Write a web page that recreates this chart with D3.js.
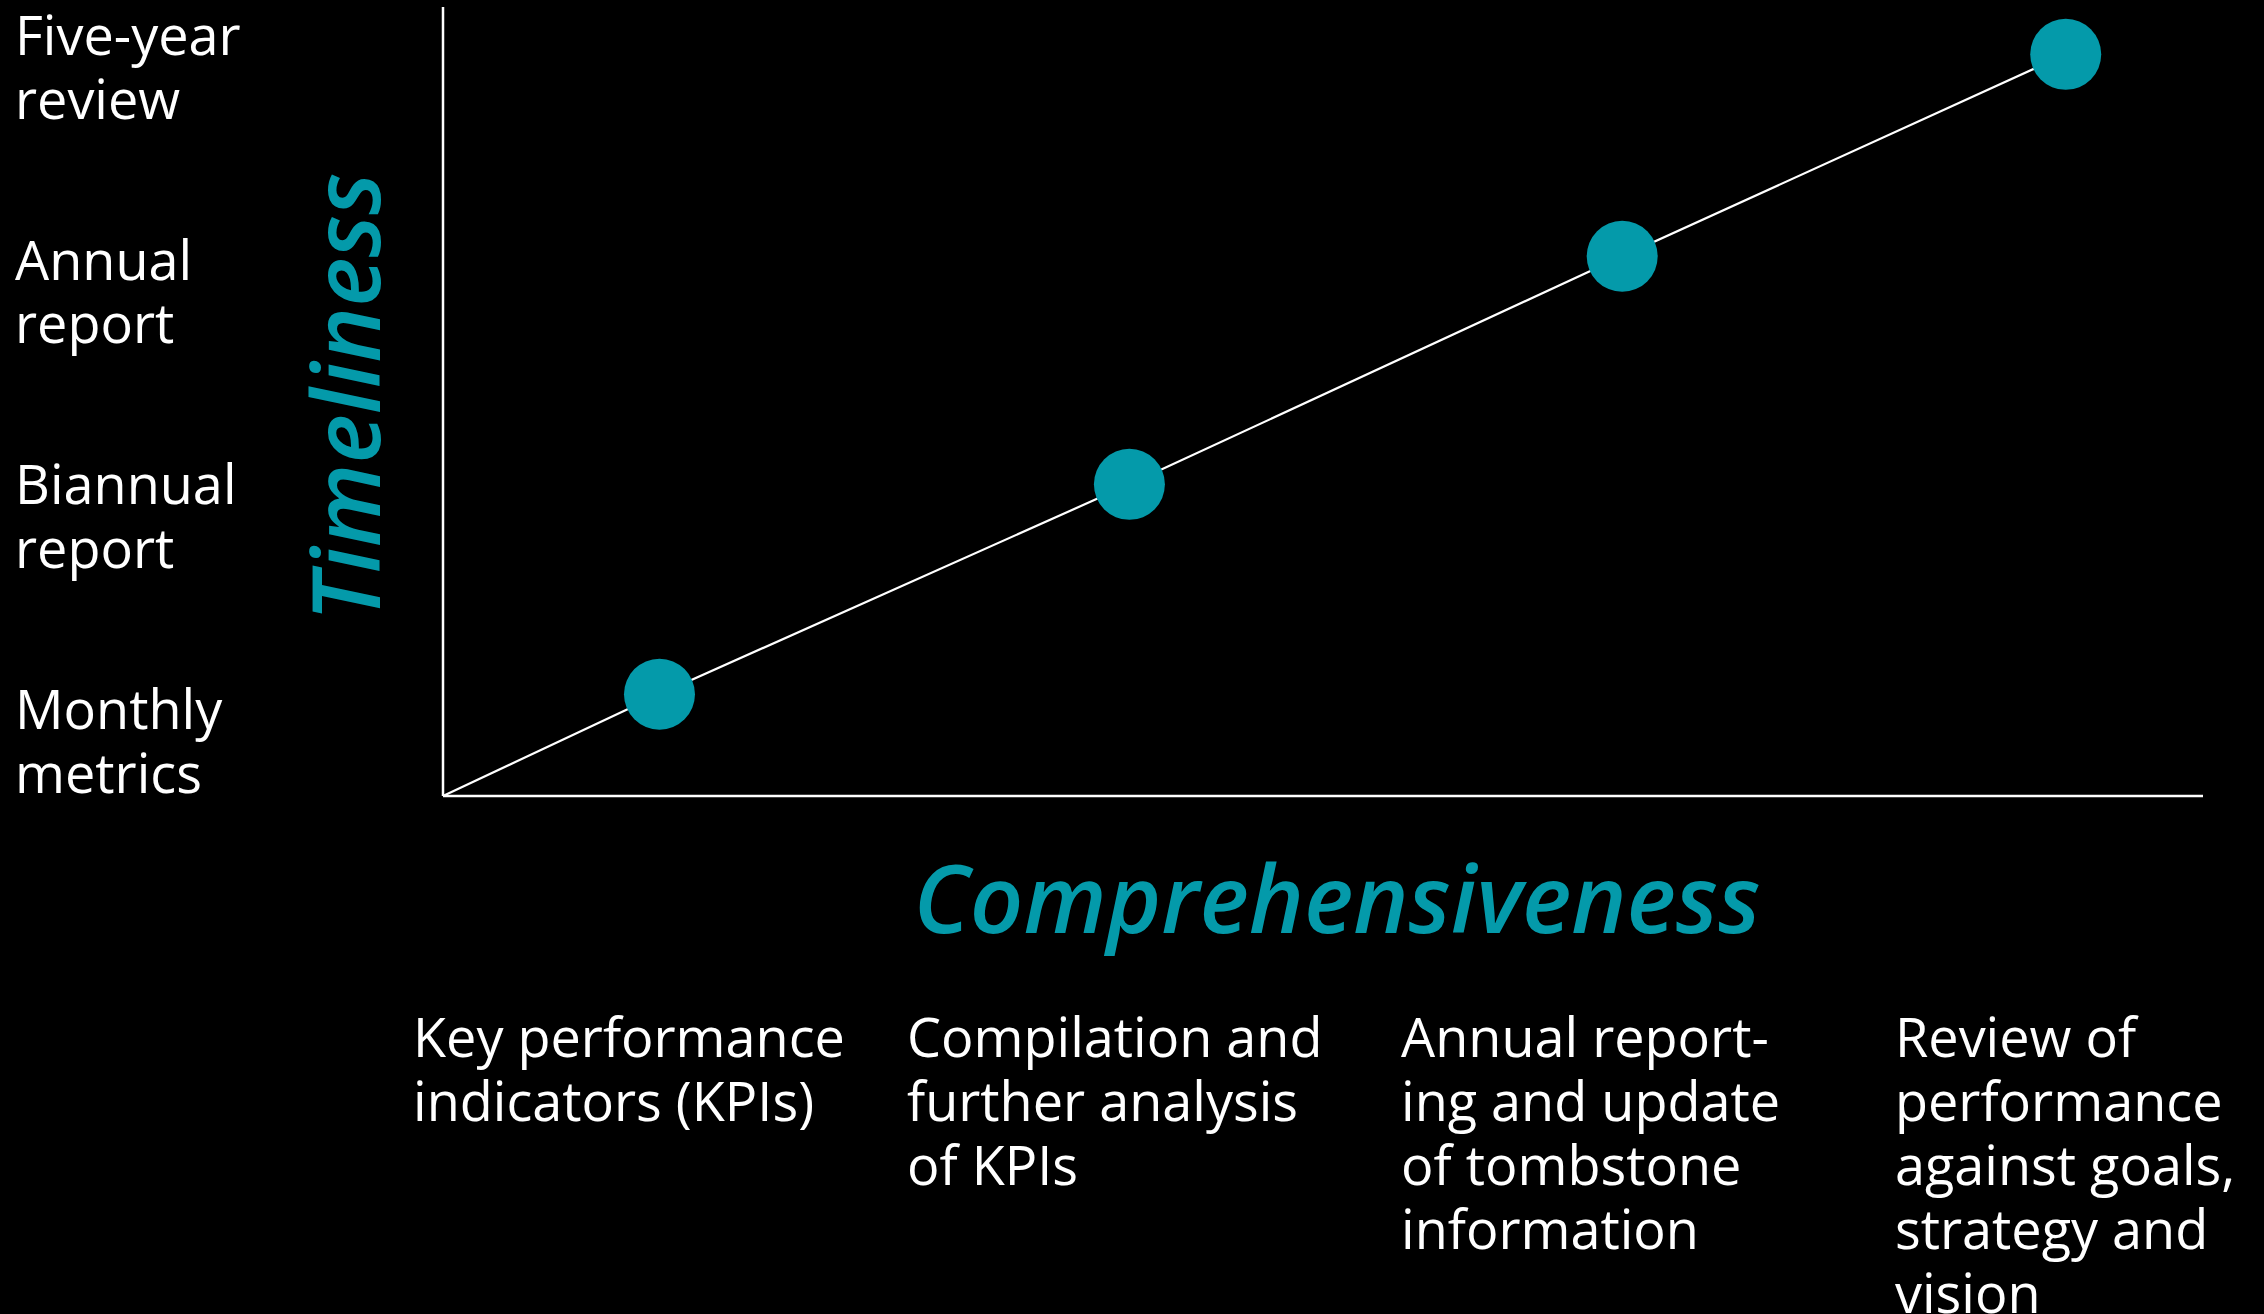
<!DOCTYPE html>
<html><head><meta charset="utf-8">
<script src="https://cdn.jsdelivr.net/npm/d3@7"></script>
<style>
html,body{margin:0;padding:0;background:#000;}
svg{display:block;}
text{font-family:"Open Sans",sans-serif;}
</style></head>
<body>
<svg id="c" width="2264" height="1314"></svg>
<script>
// Data
const stageX = [12.3, 39.0, 67.0, 92.2];      // comprehensiveness
const stageY = [12.9, 39.5, 68.4, 94.0];      // timeliness
const yLabels = [["Monthly","metrics"],["Biannual","report"],["Annual","report"],["Five-year","review"]];
const xLabels = [
  ["Key performance","indicators (KPIs)"],
  ["Compilation and","further analysis","of KPIs"],
  ["Annual report-","ing and update","of tombstone","information"],
  ["Review of","performance","against goals,","strategy and","vision"]
];
const xTitle = "Comprehensiveness";
const yTitle = "Timeliness";

const teal = "#049aaa";
const svg = d3.select("#c");
svg.append("rect").attr("width",2264).attr("height",1314).attr("fill","#000");

const x = d3.scaleLinear().domain([0,100]).range([443,2203]);
const y = d3.scaleLinear().domain([0,100]).range([796,7]);

// axes
svg.append("line").attr("x1",x(0)).attr("x2",x(0)).attr("y1",y(0)).attr("y2",y(100))
  .attr("stroke","#fff").attr("stroke-width",2.5);
svg.append("line").attr("x1",x(0)).attr("x2",x(100)).attr("y1",y(0)).attr("y2",y(0))
  .attr("stroke","#fff").attr("stroke-width",2.5);

// line from origin through stages
const pts = [[0,0]].concat(stageX.map((v,i)=>[v,stageY[i]]));
svg.append("path").attr("d", d3.line().x(d=>x(d[0])).y(d=>y(d[1]))(pts))
  .attr("fill","none").attr("stroke","#fff").attr("stroke-width",2.2);

svg.selectAll("circle.pt").data(stageX).join("circle").attr("class","pt")
  .attr("cx",d=>x(d)).attr("cy",(d,i)=>y(stageY[i])).attr("r",35.5).attr("fill",teal);

// Y category labels
const yl = d3.scalePoint().domain(d3.range(yLabels.length)).range([729,55]);
const lh = 63.5;
svg.selectAll("text.yl").data(yLabels).join("text").attr("class","yl")
  .attr("x",15).attr("y",(d,i)=>yl(i)).attr("fill","#fff").attr("font-size",54)
  .each(function(d){
    d3.select(this).selectAll("tspan").data(d).join("tspan")
      .attr("x",15).attr("dy",(t,j)=>j===0?0:lh).text(t=>t);
  });

// X category labels
const xl = d3.scalePoint().domain(d3.range(xLabels.length)).range([413,1895]);
svg.selectAll("text.xl").data(xLabels).join("text").attr("class","xl")
  .attr("x",(d,i)=>xl(i)).attr("y",1057).attr("fill","#fff").attr("font-size",54)
  .each(function(d,i){
    d3.select(this).selectAll("tspan").data(d).join("tspan")
      .attr("x",xl(i)).attr("dy",(t,j)=>j===0?0:64).text(t=>t);
  });

// Titles
svg.append("text").attr("x",1337).attr("y",933).attr("text-anchor","middle")
  .attr("fill",teal).attr("font-size",93.5).attr("font-style","italic").attr("font-weight",600)
  .text(xTitle);
svg.append("text").attr("transform","translate(380,397) rotate(-90)").attr("text-anchor","middle")
  .attr("fill",teal).attr("font-size",94).attr("font-style","italic").attr("font-weight",600)
  .text(yTitle);
</script>
</body></html>
